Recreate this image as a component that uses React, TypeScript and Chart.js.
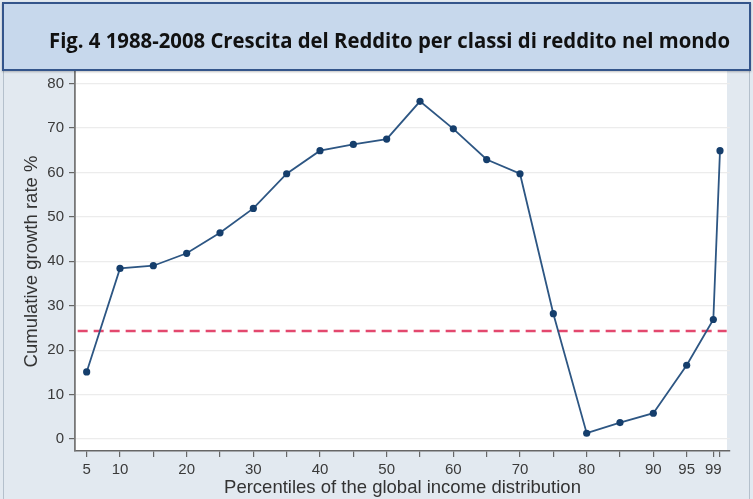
import React, { useEffect, useLayoutEffect, useRef } from "react";
import { Chart, registerables } from "chart.js";

Chart.register(...registerables);

const TITLE = "Fig. 4 1988-2008 Crescita del Reddito per classi di reddito nel mondo";
const Y_TITLE = "Cumulative growth rate %";
const X_TITLE = "Percentiles of the global income distribution";

const percentiles = [5, 10, 15, 20, 25, 30, 35, 40, 45, 50, 55, 60, 65, 70, 75, 80, 85, 90, 95, 99, 100];
const growth = [15.1, 38.4, 39.0, 41.8, 46.4, 51.9, 59.7, 64.9, 66.3, 67.5, 76.0, 69.8, 62.9, 59.7, 28.2, 1.3, 3.7, 5.8, 16.6, 26.9, 64.9];
const referenceGrowth = 24.3;

const xTicks = [5, 10, 15, 20, 25, 30, 35, 40, 45, 50, 55, 60, 65, 70, 75, 80, 85, 90, 95, 99, 100];
const xTickLabels = [5, 10, 20, 30, 40, 50, 60, 70, 80, 90, 95, 99];
const yTicks = [0, 10, 20, 30, 40, 50, 60, 70, 80];

const X_MIN = 3.25;
const X_MAX = 101.5;
const Y_MIN = -2.7;
const Y_MAX = 82.6;

const plotBackground = {
  id: "plotBackground",
  beforeDraw(chart: any) {
    const { ctx, chartArea: a } = chart;
    ctx.save();
    ctx.fillStyle = "#ffffff";
    ctx.fillRect(a.left, a.top - 2, a.right - a.left - 3, a.bottom - a.top + 2);
    ctx.restore();
  },
};

export default function App() {
  const canvasRef = useRef<HTMLCanvasElement | null>(null);
  const titleRef = useRef<HTMLSpanElement | null>(null);

  useLayoutEffect(() => {
    document.body.style.margin = "0";
    const s = titleRef.current;
    if (s) {
      s.style.transform = "none";
      const w = s.getBoundingClientRect().width;
      if (w > 0) s.style.transform = `translateY(-50%) scaleX(${681 / w})`;
    }
  }, []);

  useEffect(() => {
    if (!canvasRef.current) return;
    const tickFont = { family: '"Liberation Sans", Arial, sans-serif', size: 15 };
    const titleFont = { family: '"Liberation Sans", Arial, sans-serif', size: 18.5 };
    const chart = new Chart(canvasRef.current, {
      type: "line",
      data: {
        datasets: [
          {
            label: "growth",
            data: percentiles.map((p, i) => ({ x: p, y: growth[i] })),
            borderColor: "#2d5683",
            borderWidth: 1.8,
            pointRadius: 3.6,
            pointBackgroundColor: "#153e6c",
            pointBorderColor: "#153e6c",
            pointBorderWidth: 0,
            tension: 0,
            order: 1,
          },
          {
            label: "reference",
            data: [
              { x: X_MIN + 0.4, y: referenceGrowth },
              { x: X_MAX - 0.5, y: referenceGrowth },
            ],
            borderColor: "#e3486e",
            borderWidth: 2.6,
            borderDash: [10, 6],
            pointRadius: 0,
            order: 2,
          },
        ],
      },
      options: {
        animation: false,
        responsive: true,
        maintainAspectRatio: false,
        layout: { padding: { left: 0, top: 72, right: 23, bottom: 0 } },
        plugins: { legend: { display: false }, tooltip: { enabled: false } },
        scales: {
          x: {
            type: "linear",
            min: X_MIN,
            max: X_MAX,
            afterBuildTicks: (s: any) => {
              s.ticks = xTicks.map((v) => ({ value: v }));
            },
            afterFit: (s: any) => {
              s.height = 48;
            },
            ticks: {
              autoSkip: false,
              maxRotation: 0,
              padding: 4,
              color: "#3a3a3a",
              font: tickFont,
              callback: (v: any) => (xTickLabels.includes(Number(v)) ? String(v) : ""),
            },
            grid: { drawOnChartArea: false, drawTicks: true, tickLength: 6, color: "#666", lineWidth: 1.2 },
            border: { color: "#666", width: 1.6 },
            title: { display: true, text: X_TITLE, color: "#333", font: titleFont, padding: { top: 0, bottom: 0 } },
          },
          y: {
            type: "linear",
            min: Y_MIN,
            max: Y_MAX,
            afterBuildTicks: (s: any) => {
              s.ticks = yTicks.map((v) => ({ value: v }));
            },
            afterFit: (s: any) => {
              s.width = 75;
            },
            ticks: { padding: 5, color: "#3a3a3a", font: tickFont },
            grid: { drawTicks: true, tickLength: 6, color: "#ececec", tickColor: "#666", lineWidth: 1.2 },
            border: { color: "#777", width: 1.8 },
            title: { display: true, text: Y_TITLE, color: "#333", font: titleFont, padding: { top: 21, bottom: 0 } },
          },
        },
      },
      plugins: [plotBackground],
    });
    return () => chart.destroy();
  }, []);

  return (
    <div style={{ position: "relative", width: 753, height: 499, background: "#e2e9f0", overflow: "hidden" }}>
      <div style={{ position: "absolute", left: 3, top: 68, width: 745, height: 440, borderLeft: "1px solid #b4c0cc", borderRight: "1px solid #b4c0cc" }} />
      <div style={{ position: "absolute", left: 0, top: 0, width: 753, height: 499 }}>
        <canvas ref={canvasRef} />
      </div>
      <div
        style={{
          position: "absolute",
          left: 2,
          top: 2,
          width: 745,
          height: 65,
          border: "2px solid #34558b",
          background: "#c7d8ec",
          boxShadow: "0 1px 2px rgba(0,0,0,0.25)",
        }}
      >
        <span
          ref={titleRef}
          style={{
            position: "absolute",
            left: 45,
            top: 35,
            whiteSpace: "nowrap",
            transformOrigin: "left center",
            transform: "translateY(-50%)",
            fontFamily: '"Open Sans", "Noto Sans", sans-serif',
            fontWeight: 700,
            fontSize: 22,
            color: "#111",
            lineHeight: "26px",
          }}
        >
          {TITLE}
        </span>
      </div>
    </div>
  );
}
